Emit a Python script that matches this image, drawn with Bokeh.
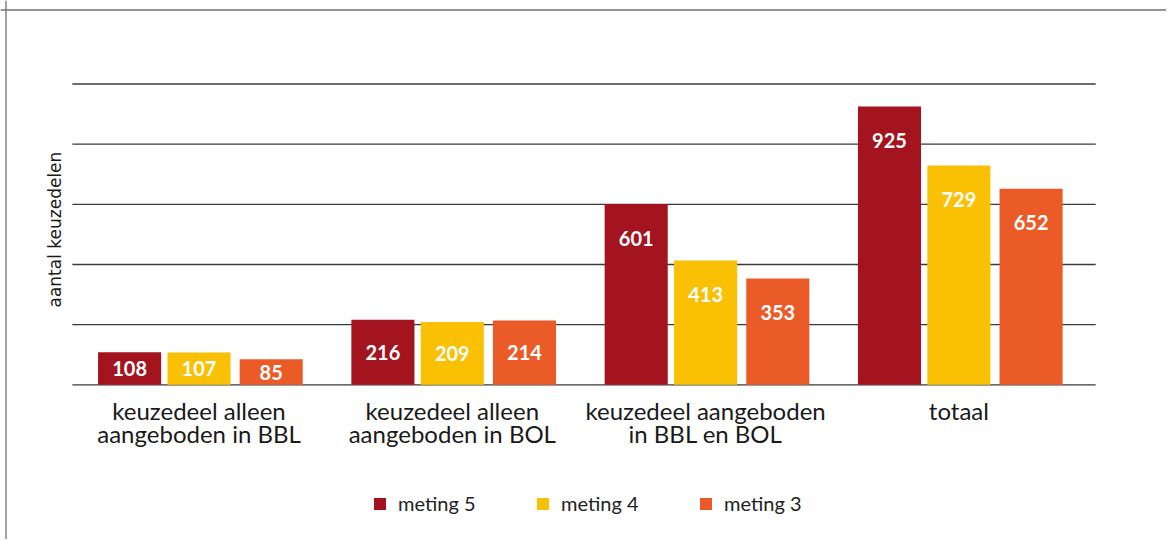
import math
from bokeh.plotting import figure
from bokeh.models import Range1d, Span, Legend, LegendItem
from bokeh.core.properties import value
from bokeh.embed import file_html
from bokeh.resources import INLINE

# ---- data ----
categories = [
    "keuzedeel alleen\naangeboden in BBL",
    "keuzedeel alleen\naangeboden in BOL",
    "keuzedeel aangeboden\nin BBL en BOL",
    "totaal",
]
series_names = ["meting 5", "meting 4", "meting 3"]
meting_5 = [108, 216, 601, 925]
meting_4 = [107, 209, 413, 729]
meting_3 = [85, 214, 353, 652]
grid_values = [0, 200, 400, 600, 800, 1000]
y_title = "aantal keuzedelen"

# ---- style ----
colors = ["#A3141E", "#FAC003", "#EA5B28"]
offsets = [-0.274, 0.0, 0.285]
bar_width = 0.249
FONT = "Lato"

p = figure(
    width=1166, height=539,
    x_range=Range1d(-0.7837, 3.8196),
    y_range=Range1d(-514.3, 1277.6),
    x_axis_type=None, y_axis_type=None,
    toolbar_location=None, output_backend="svg",
    min_border=0,
)
p.outline_line_color = None
p.background_fill_color = "white"
p.border_fill_color = "white"

# frame border (left and top)
p.add_layout(Span(location=-0.762, dimension="height", line_color="#707070", line_width=1.3))
p.add_layout(Span(location=1246.0, dimension="width", line_color="#707070", line_width=1.3))

# gridlines
n_grid = len(grid_values)
p.segment(x0=[-0.5] * n_grid, x1=[3.54] * n_grid, y0=grid_values, y1=grid_values,
          line_color="#3a3a3a", line_width=1.3)

xs = list(range(len(categories)))
items = []
for vals, off, col, name in zip([meting_5, meting_4, meting_3], offsets, colors, series_names):
    bx = [x + off for x in xs]
    r = p.vbar(x=bx, top=vals, width=bar_width, fill_color=col, line_color=None)
    items.append(LegendItem(label=name, renderers=[r]))
    label_y = [max(v - 113, v / 2) for v in vals]
    p.text(x=bx, y=label_y, text=[str(v) for v in vals], text_color="white",
           text_font=value(FONT), text_font_style="bold", text_font_size="20px",
           text_align="center", text_baseline="middle")

# category labels
p.text(x=xs, y=[-37] * len(xs), text=categories, text_color="#1a1a1a",
       text_font=value(FONT), text_font_size="24px", text_align="center",
       text_baseline="top", text_line_height=0.785)

# y title
p.text(x=[-0.5666], y=[516.0], text=[y_title], angle=math.pi / 2,
       text_color="#1a1a1a", text_font=value("DejaVu Sans"), text_font_size="17px",
       text_align="center", text_baseline="middle")

legend = Legend(items=items, orientation="horizontal", location=(372, 24),
                glyph_width=15, glyph_height=15, label_standoff=11, label_width=80,
                spacing=57, padding=0, margin=0,
                label_text_font=FONT, label_text_font_size="20px",
                label_text_color="#222222",
                border_line_color=None, background_fill_alpha=0)
p.add_layout(legend)

open("out.html", "w").write(file_html(p, INLINE))
